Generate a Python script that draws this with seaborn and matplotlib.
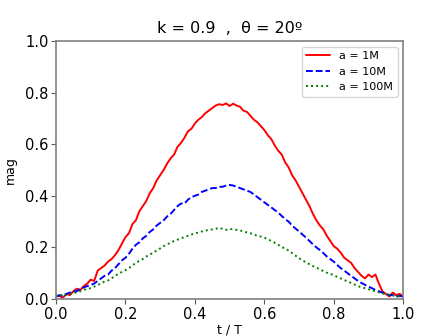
import numpy as np
import pandas as pd
import matplotlib
matplotlib.use("Agg")
import matplotlib.pyplot as plt
import seaborn as sns

# tiempo normalizado t / T
t = np.round(np.arange(0, 101) * 0.01, 2)

# magnitud para a = 1M
mag_1m = [0.010, 0.012, 0.005, 0.020, 0.015, 0.030, 0.040, 0.035, 0.050, 0.060,
          0.075, 0.070, 0.110, 0.120, 0.130, 0.145, 0.155, 0.170, 0.190, 0.215,
          0.240, 0.255, 0.290, 0.305, 0.340, 0.360, 0.380, 0.410, 0.430, 0.460,
          0.480, 0.500, 0.525, 0.545, 0.560, 0.590, 0.605, 0.625, 0.650, 0.660,
          0.680, 0.695, 0.705, 0.720, 0.730, 0.740, 0.750, 0.755, 0.752, 0.758,
          0.748, 0.757, 0.750, 0.745, 0.730, 0.725, 0.710, 0.695, 0.685, 0.670,
          0.655, 0.635, 0.620, 0.595, 0.575, 0.560, 0.530, 0.510, 0.480, 0.460,
          0.435, 0.410, 0.385, 0.360, 0.330, 0.305, 0.285, 0.270, 0.245, 0.225,
          0.205, 0.195, 0.180, 0.160, 0.150, 0.140, 0.120, 0.105, 0.090, 0.080,
          0.095, 0.085, 0.095, 0.060, 0.030, 0.020, 0.010, 0.025, 0.015, 0.020,
          0.010]

# magnitud para a = 10M
mag_10m = [0.010, 0.015, 0.010, 0.020, 0.025, 0.030, 0.030, 0.040, 0.045, 0.050,
           0.055, 0.060, 0.070, 0.080, 0.090, 0.095, 0.110, 0.120, 0.135, 0.150,
           0.160, 0.175, 0.195, 0.210, 0.220, 0.235, 0.245, 0.260, 0.270, 0.285,
           0.295, 0.305, 0.320, 0.330, 0.345, 0.360, 0.370, 0.370, 0.385, 0.395,
           0.400, 0.405, 0.415, 0.420, 0.425, 0.430, 0.430, 0.435, 0.435, 0.440,
           0.442, 0.440, 0.435, 0.430, 0.425, 0.420, 0.415, 0.405, 0.395, 0.385,
           0.375, 0.365, 0.355, 0.345, 0.335, 0.322, 0.310, 0.300, 0.285, 0.273,
           0.262, 0.250, 0.238, 0.225, 0.212, 0.200, 0.190, 0.178, 0.165, 0.155,
           0.145, 0.132, 0.120, 0.110, 0.100, 0.090, 0.080, 0.070, 0.062, 0.055,
           0.048, 0.042, 0.035, 0.030, 0.025, 0.020, 0.015, 0.015, 0.010, 0.012,
           0.010]

# magnitud para a = 100M
mag_100m = [0.015, 0.010, 0.020, 0.015, 0.020, 0.025, 0.025, 0.030, 0.035, 0.040,
            0.042, 0.048, 0.055, 0.060, 0.068, 0.072, 0.080, 0.090, 0.098, 0.105,
            0.112, 0.120, 0.130, 0.140, 0.148, 0.155, 0.165, 0.172, 0.180, 0.188,
            0.196, 0.205, 0.212, 0.218, 0.225, 0.230, 0.235, 0.240, 0.245, 0.250,
            0.254, 0.258, 0.262, 0.265, 0.268, 0.270, 0.272, 0.276, 0.272, 0.268,
            0.272, 0.270, 0.268, 0.266, 0.262, 0.258, 0.255, 0.250, 0.245, 0.242,
            0.238, 0.232, 0.225, 0.218, 0.210, 0.202, 0.195, 0.188, 0.178, 0.168,
            0.158, 0.150, 0.142, 0.135, 0.128, 0.122, 0.115, 0.108, 0.102, 0.098,
            0.092, 0.086, 0.080, 0.074, 0.068, 0.062, 0.056, 0.050, 0.045, 0.042,
            0.038, 0.034, 0.030, 0.026, 0.022, 0.018, 0.016, 0.014, 0.012, 0.010,
            0.010]

etiquetas = ["a = 1M", "a = 10M", "a = 100M"]
colores = ["red", "blue", "green"]
estilos = ["-", (0, (3.5, 1.5)), (0, (1, 1.6))]

sns.set_style("ticks")
plt.rcParams.update({"text.color": "black", "axes.labelcolor": "black",
                     "xtick.color": "0.35", "ytick.color": "0.35",
                     "xtick.labelcolor": "black", "ytick.labelcolor": "black"})

fig, ax = plt.subplots(figsize=(4.48, 3.36), dpi=100)
fig.subplots_adjust(left=0.125, right=0.9, bottom=0.11, top=0.878)

for datos, etiqueta, color, estilo in zip([mag_1m, mag_10m, mag_100m], etiquetas, colores, estilos):
    df = pd.DataFrame({"t": t, "mag": datos})
    sns.lineplot(data=df, x="t", y="mag", ax=ax, color=color, linestyle=estilo,
                 linewidth=1.4, label=etiqueta)

ax.set_xlim(0, 1)
ax.set_ylim(0, 1)
ax.set_xticks([0.0, 0.2, 0.4, 0.6, 0.8, 1.0])
ax.set_yticks([0.0, 0.2, 0.4, 0.6, 0.8, 1.0])
ax.tick_params(labelsize=10.5, length=3.5, pad=2)
for s in ax.spines.values():
    s.set_color("0.5")
    s.set_linewidth(1.2)

ax.set_xlabel("t / T", fontsize=9, labelpad=1)
ax.set_ylabel("mag", fontsize=9, labelpad=6)
ax.set_title("k = 0.9  ,  θ = 20º", fontsize=11.5, pad=6)
leg = ax.legend(loc="upper right", fontsize=8, frameon=True, handlelength=2.2)
for txt in leg.get_texts():
    txt.set_color("black")

fig.savefig("out.png", dpi=100)
